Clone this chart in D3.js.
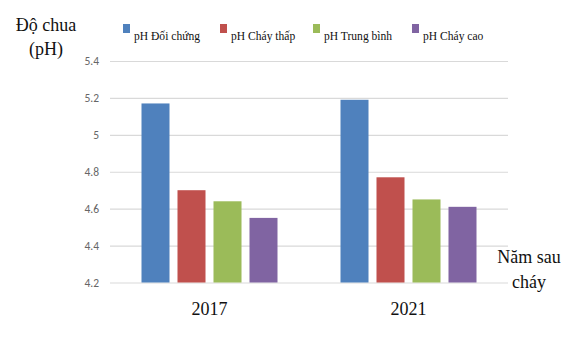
<!DOCTYPE html>
<html>
<head>
<meta charset="utf-8">
<script src="https://cdn.jsdelivr.net/npm/d3@7"></script>
<style>
  html, body { margin: 0; padding: 0; background: #fff; }
  svg { display: block; }
</style>
</head>
<body>
<svg id="chart" width="578" height="341"></svg>
<script>
// ---- data ----
const categories = ["2017", "2021"];
const seriesNames = ["pH Đối chứng", "pH Cháy thấp", "pH Trung bình", "pH Cháy cao"];
const doiChung = [5.17, 5.19];
const chayThap = [4.70, 4.77];
const trungBinh = [4.64, 4.65];
const chayCao = [4.55, 4.61];
const yTicks = [4.2, 4.4, 4.6, 4.8, 5.0, 5.2, 5.4];
const yTickLabels = ["4.2", "4.4", "4.6", "4.8", "5", "5.2", "5.4"];
const colors = ["#4f81bd", "#c0504d", "#9bbb59", "#8064a2"];
const yTitle = ["Độ chua", "(pH)"];
const xTitle = ["Năm sau", "cháy"];

const seriesValues = [doiChung, chayThap, trungBinh, chayCao];

// ---- layout ----
const svg = d3.select("#chart");
const plot = { left: 110, right: 508, top: 61, bottom: 282.5 };
const serif = "'Liberation Serif', 'Times New Roman', serif";
const sans = "Carlito, 'Liberation Sans', Arial, sans-serif";

const x0 = d3.scaleBand().domain(categories).range([plot.left, plot.right]).padding(0);
const x1 = d3.scaleBand().domain(seriesNames).range([0, x0.bandwidth()])
  .paddingInner(0.222).paddingOuter(0.875);
const y = d3.scaleLinear().domain([4.2, 5.4]).range([plot.bottom, plot.top]);

// gridlines + y labels via axis
const yAxis = d3.axisLeft(y).tickValues(yTicks)
  .tickFormat((d, i) => yTickLabels[i])
  .tickSize(-(plot.right - plot.left)).tickPadding(11);
const gy = svg.append("g").attr("transform", `translate(${plot.left},0)`).call(yAxis);
gy.select(".domain").remove();
gy.selectAll(".tick line").attr("stroke", "#d9d9d9").attr("stroke-width", 1.2);
gy.selectAll(".tick text").attr("fill", "#666").style("font-family", sans).style("font-size", "11.5px");

// bars
const g = svg.append("g");
categories.forEach((cat, ci) => {
  g.selectAll(null).data(seriesNames).enter().append("rect")
    .attr("x", s => x0(cat) + x1(s))
    .attr("width", x1.bandwidth())
    .attr("y", (s, si) => y(seriesValues[si][ci]))
    .attr("height", (s, si) => y(4.2) - y(seriesValues[si][ci]))
    .attr("fill", (s, si) => colors[si]);
});

// x axis labels
const xAxis = d3.axisBottom(x0).tickSize(0).tickPadding(20);
const gx = svg.append("g").attr("transform", `translate(0,${plot.bottom})`).call(xAxis);
gx.select(".domain").remove();
gx.selectAll(".tick text").attr("fill", "#111").style("font-family", serif).style("font-size", "18px");

// legend
const legendX = [123, 220, 313, 412];
const leg = svg.append("g");
seriesNames.forEach((s, i) => {
  leg.append("rect").attr("x", legendX[i]).attr("y", 24).attr("width", 7).attr("height", 9).attr("fill", colors[i]);
  leg.append("text").attr("transform", `translate(${legendX[i] + 11},40) scale(0.89,1)`)
    .style("font-family", serif).style("font-size", "13px").attr("fill", "#111").text(s);
});

// axis titles
svg.append("g").selectAll("text").data(yTitle).enter().append("text")
  .attr("x", 46).attr("y", (d, i) => 31 + i * 24).attr("text-anchor", "middle")
  .style("font-family", serif).style("font-size", "18px").attr("fill", "#111").text(d => d);
svg.append("g").selectAll("text").data(xTitle).enter().append("text")
  .attr("x", 529).attr("y", (d, i) => 263 + i * 25).attr("text-anchor", "middle")
  .style("font-family", serif).style("font-size", "18px").attr("fill", "#111").text(d => d);
</script>
</body>
</html>
